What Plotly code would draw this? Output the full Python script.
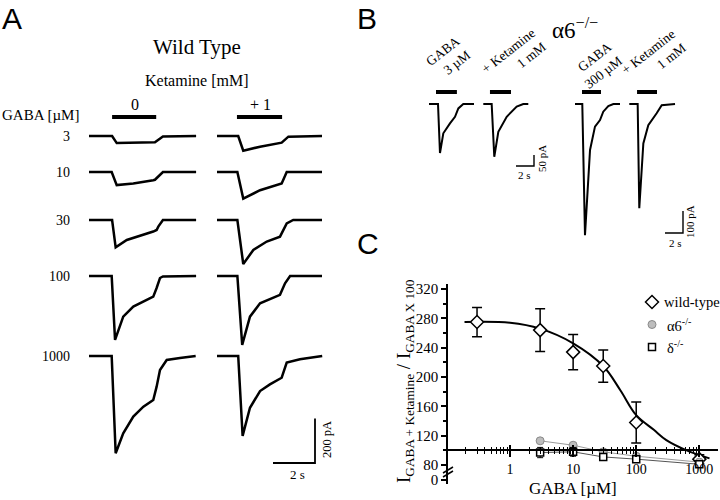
import plotly.graph_objects as go

SERIF = "Liberation Serif, Times New Roman, serif"
SANS = "Liberation Sans, Arial, sans-serif"

# ======================= DATA =======================
# ---- Panel A: wild type currents; time (s) and current (pA) ----
A_ROWS = ["3", "10", "30", "100", "1000"]            # GABA [µM]
A_COLS = ["0", "+ 1"]                                 # ketamine [mM]
A_APP = [(1.10, 3.20), (0.95, 3.10)]                  # application bar (s)

A0_T = {
    "3":    [0, 1.10, 1.32, 1.95, 3.14, 3.52, 5.10],
    "10":   [0, 1.08, 1.32, 2.11, 3.06, 3.14, 3.52, 5.10],
    "30":   [0, 1.10, 1.27, 1.80, 3.06, 3.22, 3.30, 3.52, 5.10],
    "100":  [0, 1.08, 1.24, 1.63, 2.11, 3.06, 3.22, 3.38, 3.52, 5.10],
    "1000": [0, 1.08, 1.27, 1.63, 2.11, 2.59, 3.06, 3.22, 3.38, 3.70, 4.33, 5.08],
}
A0_I = {
    "3":    [0, 0, -32, -31, -28, -2, 0],
    "10":   [0, 0, -59, -52, -37, -35, 0, 0],
    "30":   [0, 0, -123, -90, -52, -45, -30, 0, 0],
    "100":  [0, 0, -288, -183, -138, -93, -54, -9, -2, 0],
    "1000": [0, 0, -438, -348, -273, -228, -198, -138, -63, -18, -9, 0],
}
A1_T = {
    "3":    [0, 1.01, 1.25, 2.05, 3.08, 3.40, 5.0],
    "10":   [0, 0.97, 1.25, 2.05, 3.08, 3.32, 5.0],
    "30":   [0, 0.97, 1.25, 1.73, 2.37, 3.00, 3.32, 3.63, 5.0],
    "100":  [0, 0.97, 1.20, 1.57, 2.05, 3.00, 3.24, 3.48, 5.0],
    "1000": [0, 1.01, 1.22, 1.57, 2.05, 2.52, 3.08, 3.32, 3.95, 5.01],
}
A1_I = {
    "3":    [0, 0, -66, -48, -30, -3, 0],
    "10":   [0, 0, -120, -82, -52, 0, 0],
    "30":   [0, 0, -198, -135, -97, -75, -15, 0, 0],
    "100":  [0, 0, -310, -183, -123, -85, -33, 0, 0],
    "1000": [0, 0, -360, -233, -158, -128, -98, -30, -15, 0],
}

# ---- Panel B: alpha6 -/- currents ----
B_LABELS = ["GABA<br>3 µM", "+ Ketamine<br>1 mM", "GABA<br>300 µM", "+ Ketamine<br>1 mM"]
B_T = [
    [0, 1.0, 1.22, 1.59, 2.33, 2.89, 3.26, 3.81, 5.0],
    [0, 0.93, 1.22, 1.67, 2.60, 2.97, 3.71, 4.44, 5.0],
    [0, 0.81, 1.11, 1.67, 2.22, 2.78, 3.14, 3.70, 4.26, 5.0],
    [0, 0.93, 1.11, 1.56, 2.11, 2.67, 3.04, 3.60, 5.08],
]
B_I = [
    [0, 0, -223, -133, -88, -58, -20, 0, 0],
    [0, 0, -240, -126, -58, -42, -12, 0, 0],
    [0, 0, -596, -209, -103, -73, -35, -9, 0, 0],
    [0, 0, -474, -179, -96, -65, -42, -6, 0],
]
B_APP = [(0.78, 3.10), (0.74, 3.08), (0.78, 2.89), (0.86, 3.08)]

# ---- Panel C: concentration-response ----
GABA_WT = [0.3, 3, 10, 30, 100, 1000]
WT_Y = [275, 264, 234, 215, 138, 88]
WT_ERR = [20, 29, 24, 22, 28, 6]

FIT_X = [0.19, 1, 3, 10, 30, 56, 100, 190, 300, 630, 1450]
FIT_Y = [275, 274, 266, 246, 215, 182, 148, 128, 114, 100, 89]

GABA_KO = [3, 10, 30, 100, 1000]
A6_Y = [113, 107, 98, 92, 84]
A6_ERR = [3, 3, 3, 3, 3]
DELTA_Y = [97, 98, 91, 88, 81]
DELTA_ERR = [7, 6, 3, 3, 3]

LEGEND_NAMES = ["wild-type", "α6<sup>-/-</sup>", "δ<sup>-/-</sup>"]

Y_TICKS = [60, 80, 120, 160, 200, 240, 280, 320]
Y_TICKTEXT = ["0", "80", "120", "160", "200", "240", "280", "320"]
X_TICKS = [1, 10, 100, 1000]

# ======================= LAYOUT CONSTANTS (pixels) =======================
A_X0 = [89, 217]
A_BASE = [136, 172, 220, 276, 356]
A_PX_S, A_PX_PA, A_BAR_Y = 21, 0.222, 117
B_X0 = [429, 483.3, 575, 629.3]
B_BASE, B_PX_S, B_PX_PA, B_BAR_Y = 104, 9, 0.22, 92
LEG_X, LEG_Y0, LEG_DY = 652, 302, 22.5

fig = go.Figure()
blk = "black"


def canvas_line(xs, ys, w=1.8, color=blk):
    fig.add_trace(go.Scatter(x=xs, y=ys, mode="lines", xaxis="x2", yaxis="y2",
                             line=dict(color=color, width=w), showlegend=False,
                             hoverinfo="skip"))


# Panel A traces
for c, (TT, II) in enumerate([(A0_T, A0_I), (A1_T, A1_I)]):
    for r, key in enumerate(A_ROWS):
        xs = [A_X0[c] + t * A_PX_S for t in TT[key]]
        ys = [A_BASE[r] - i * A_PX_PA for i in II[key]]
        canvas_line(xs, ys, 2.5)
    a0, a1 = A_APP[c]
    canvas_line([A_X0[c] + a0 * A_PX_S, A_X0[c] + a1 * A_PX_S], [A_BAR_Y, A_BAR_Y], 4)

# Panel B traces
for k in range(4):
    xs = [B_X0[k] + t * B_PX_S for t in B_T[k]]
    ys = [B_BASE - i * B_PX_PA for i in B_I[k]]
    canvas_line(xs, ys, 2.0)
    a0, a1 = B_APP[k]
    canvas_line([B_X0[k] + a0 * B_PX_S, B_X0[k] + a1 * B_PX_S], [B_BAR_Y, B_BAR_Y], 4)


# scale bars
def scalebar(cx, cy, sec, pa, pxs, pxpa, w=1.6):
    canvas_line([cx - sec * pxs, cx, cx], [cy, cy, cy - pa * pxpa], w)


scalebar(315, 463, 2, 200, A_PX_S, A_PX_PA, 1.8)
scalebar(534, 166, 2, 50, B_PX_S, B_PX_PA, 1.4)
scalebar(683, 233, 2, 100, B_PX_S, B_PX_PA, 1.4)

# Panel C
WT_MK = dict(symbol="diamond", size=10, color="white", line=dict(color=blk, width=1.5))
A6_MK = dict(symbol="circle", size=8, color="#bdbdbd", line=dict(color="#8a8a8a", width=1))
DE_MK = dict(symbol="square", size=7, color="white", line=dict(color=blk, width=1.5))

fig.add_trace(go.Scatter(x=FIT_X, y=FIT_Y, mode="lines", line=dict(color=blk, width=2, shape="spline", smoothing=1.0),
                         showlegend=False, hoverinfo="skip"))
fig.add_trace(go.Scatter(x=GABA_KO, y=A6_Y, mode="lines", line=dict(color="#9a9a9a", width=1),
                         showlegend=False, hoverinfo="skip"))
fig.add_trace(go.Scatter(x=GABA_KO, y=DELTA_Y, mode="lines", line=dict(color="#555555", width=1),
                         showlegend=False, hoverinfo="skip"))
fig.add_trace(go.Scatter(x=GABA_WT, y=WT_Y, mode="markers", name=LEGEND_NAMES[0], marker=WT_MK, showlegend=False,
                         error_y=dict(type="data", array=WT_ERR, color=blk, thickness=1.5, width=5)))
fig.add_trace(go.Scatter(x=GABA_KO, y=A6_Y, mode="markers", name=LEGEND_NAMES[1], marker=A6_MK, showlegend=False,
                         error_y=dict(type="data", array=A6_ERR, color="#444", thickness=1, width=3)))
fig.add_trace(go.Scatter(x=GABA_KO, y=DELTA_Y, mode="markers", name=LEGEND_NAMES[2], marker=DE_MK, showlegend=False,
                         error_y=dict(type="data", array=DELTA_ERR, color=blk, thickness=1, width=3)))

# hand-placed legend (symbols)
for k, mk in enumerate([WT_MK, A6_MK, DE_MK]):
    fig.add_trace(go.Scatter(x=[LEG_X], y=[LEG_Y0 + k * LEG_DY], mode="markers", marker=mk,
                             xaxis="x2", yaxis="y2", showlegend=False, hoverinfo="skip"))

# axis geometry for C
YMIN, YMAX = 54.1, 326.9
YDOM = [0.032, 0.432]
XRANGE = [-0.983, 3.296]
XDOM = [448 / 720, 718 / 720]
pos100 = YDOM[0] + (100 - YMIN) / (YMAX - YMIN) * (YDOM[1] - YDOM[0])
minor_x = [m * 10 ** d for d in (-1, 0, 1, 2) for m in range(2, 10)]

fig.update_layout(
    template="none",
    width=720, height=500, autosize=False,
    margin=dict(l=0, r=0, t=0, b=0, pad=0),
    paper_bgcolor="white", plot_bgcolor="rgba(0,0,0,0)",
    font=dict(family=SERIF, color=blk, size=14),
    showlegend=False,
    xaxis=dict(type="log", range=XRANGE, domain=XDOM, anchor="free", position=pos100, automargin=False,
               showline=True, linecolor=blk, linewidth=2, showgrid=False, zeroline=False,
               ticks="outside", ticklen=6, tickwidth=1.5, tickcolor=blk,
               tickvals=X_TICKS, ticktext=[str(v) for v in X_TICKS],
               tickfont=dict(family=SERIF, size=14), ticklabelstandoff=0,
               minor=dict(tickvals=minor_x, ticks="outside", ticklen=3, tickcolor=blk, tickwidth=1, showgrid=False)),
    xaxis4=dict(type="log", range=XRANGE, domain=XDOM, anchor="free", position=pos100, overlaying="x",
                automargin=False, showline=False, showgrid=False, zeroline=False, showticklabels=False,
                ticks="inside", ticklen=5, tickwidth=1.5, tickcolor=blk, tickvals=X_TICKS,
                minor=dict(tickvals=minor_x, ticks="inside", ticklen=3, tickcolor=blk, tickwidth=1, showgrid=False)),
    yaxis=dict(range=[YMIN, YMAX], domain=YDOM, anchor="x", automargin=False, showline=True, linecolor=blk,
               linewidth=1.5, showgrid=False, zeroline=False, ticks="outside", ticklen=5, tickwidth=1.5,
               tickcolor=blk, tickvals=Y_TICKS, ticktext=Y_TICKTEXT, tickfont=dict(family=SERIF, size=15),
               minor=dict(tickvals=[100, 140, 180, 220, 260, 300], ticks="outside", ticklen=3, tickcolor=blk,
                          showgrid=False)),
    xaxis2=dict(range=[0, 720], domain=[0, 1], visible=False, fixedrange=True, automargin=False, anchor="y2"),
    yaxis2=dict(range=[500, 0], domain=[0, 1], visible=False, fixedrange=True, anchor="x2", automargin=False),
)
# dummy trace on xaxis4 so it renders
fig.add_trace(go.Scatter(x=[1], y=[None], xaxis="x4", yaxis="y", showlegend=False, hoverinfo="skip"))

# axis break marks
for dy in (0, 4):
    fig.add_shape(type="line", xref="x2", yref="y2", x0=443, x1=453, y0=473 + dy, y1=467 + dy,
                  line=dict(color=blk, width=1.5))

ann = []


def txt(x, y, s, size=14, fam=SERIF, angle=0, xa="center", align="center", ya="middle"):
    ann.append(dict(x=x, y=y, xref="x2", yref="y2", text=s, showarrow=False, textangle=angle,
                    font=dict(family=fam, size=size, color=blk), xanchor=xa, yanchor=ya, align=align))


txt(12, 0, "A", 30, SANS, ya="top")
txt(367, 0, "B", 30, SANS, ya="top")
txt(368, 243, "C", 30, SANS)
txt(197, 47, "Wild Type", 21)
txt(197, 80, "Ketamine [mM]", 16)
txt(135, 104, A_COLS[0], 16)
txt(260, 104, A_COLS[1], 16)
txt(0, 115, "GABA [µM]", 15, xa="left")
for r, key in enumerate(A_ROWS):
    txt(72, A_BASE[r], key, 14, xa="right")
txt(327, 440, "200 pA", 12.5, angle=-90)
txt(297, 474, "2 s", 13)
txt(575, 28, "α6<sup>−/−</sup>", 23)
for (cx, cy), s in zip([(448, 58), (513, 58), (598, 65), (653, 59)], B_LABELS):
    txt(cx, cy, s, 13.5, angle=-38, align="right")
txt(542, 159, "50 pA", 11, angle=-90)
txt(524, 175, "2 s", 11)
txt(690, 222, "100 pA", 11, angle=-90)
txt(675, 243, "2 s", 11)
txt(405, 381, "I<sub>GABA + Ketamine</sub> / I<sub>GABA X 100</sub>", 19, angle=-90)
txt(573, 500, "GABA [µM]", 17, ya="bottom")
for k, name in enumerate(LEGEND_NAMES):
    txt(LEG_X + 10 if k == 0 else LEG_X + 13, LEG_Y0 + k * LEG_DY, name, 14.5, xa="left")
fig.update_layout(annotations=ann)

fig.write_html(
    "out.html",
    config={"responsive": False, "displayModeBar": False},
    post_script="document.body.style.margin='0px';document.body.style.overflow='hidden';"
                "Plotly.relayout('{plot_id}', {width: 720, height: 500});",
)
